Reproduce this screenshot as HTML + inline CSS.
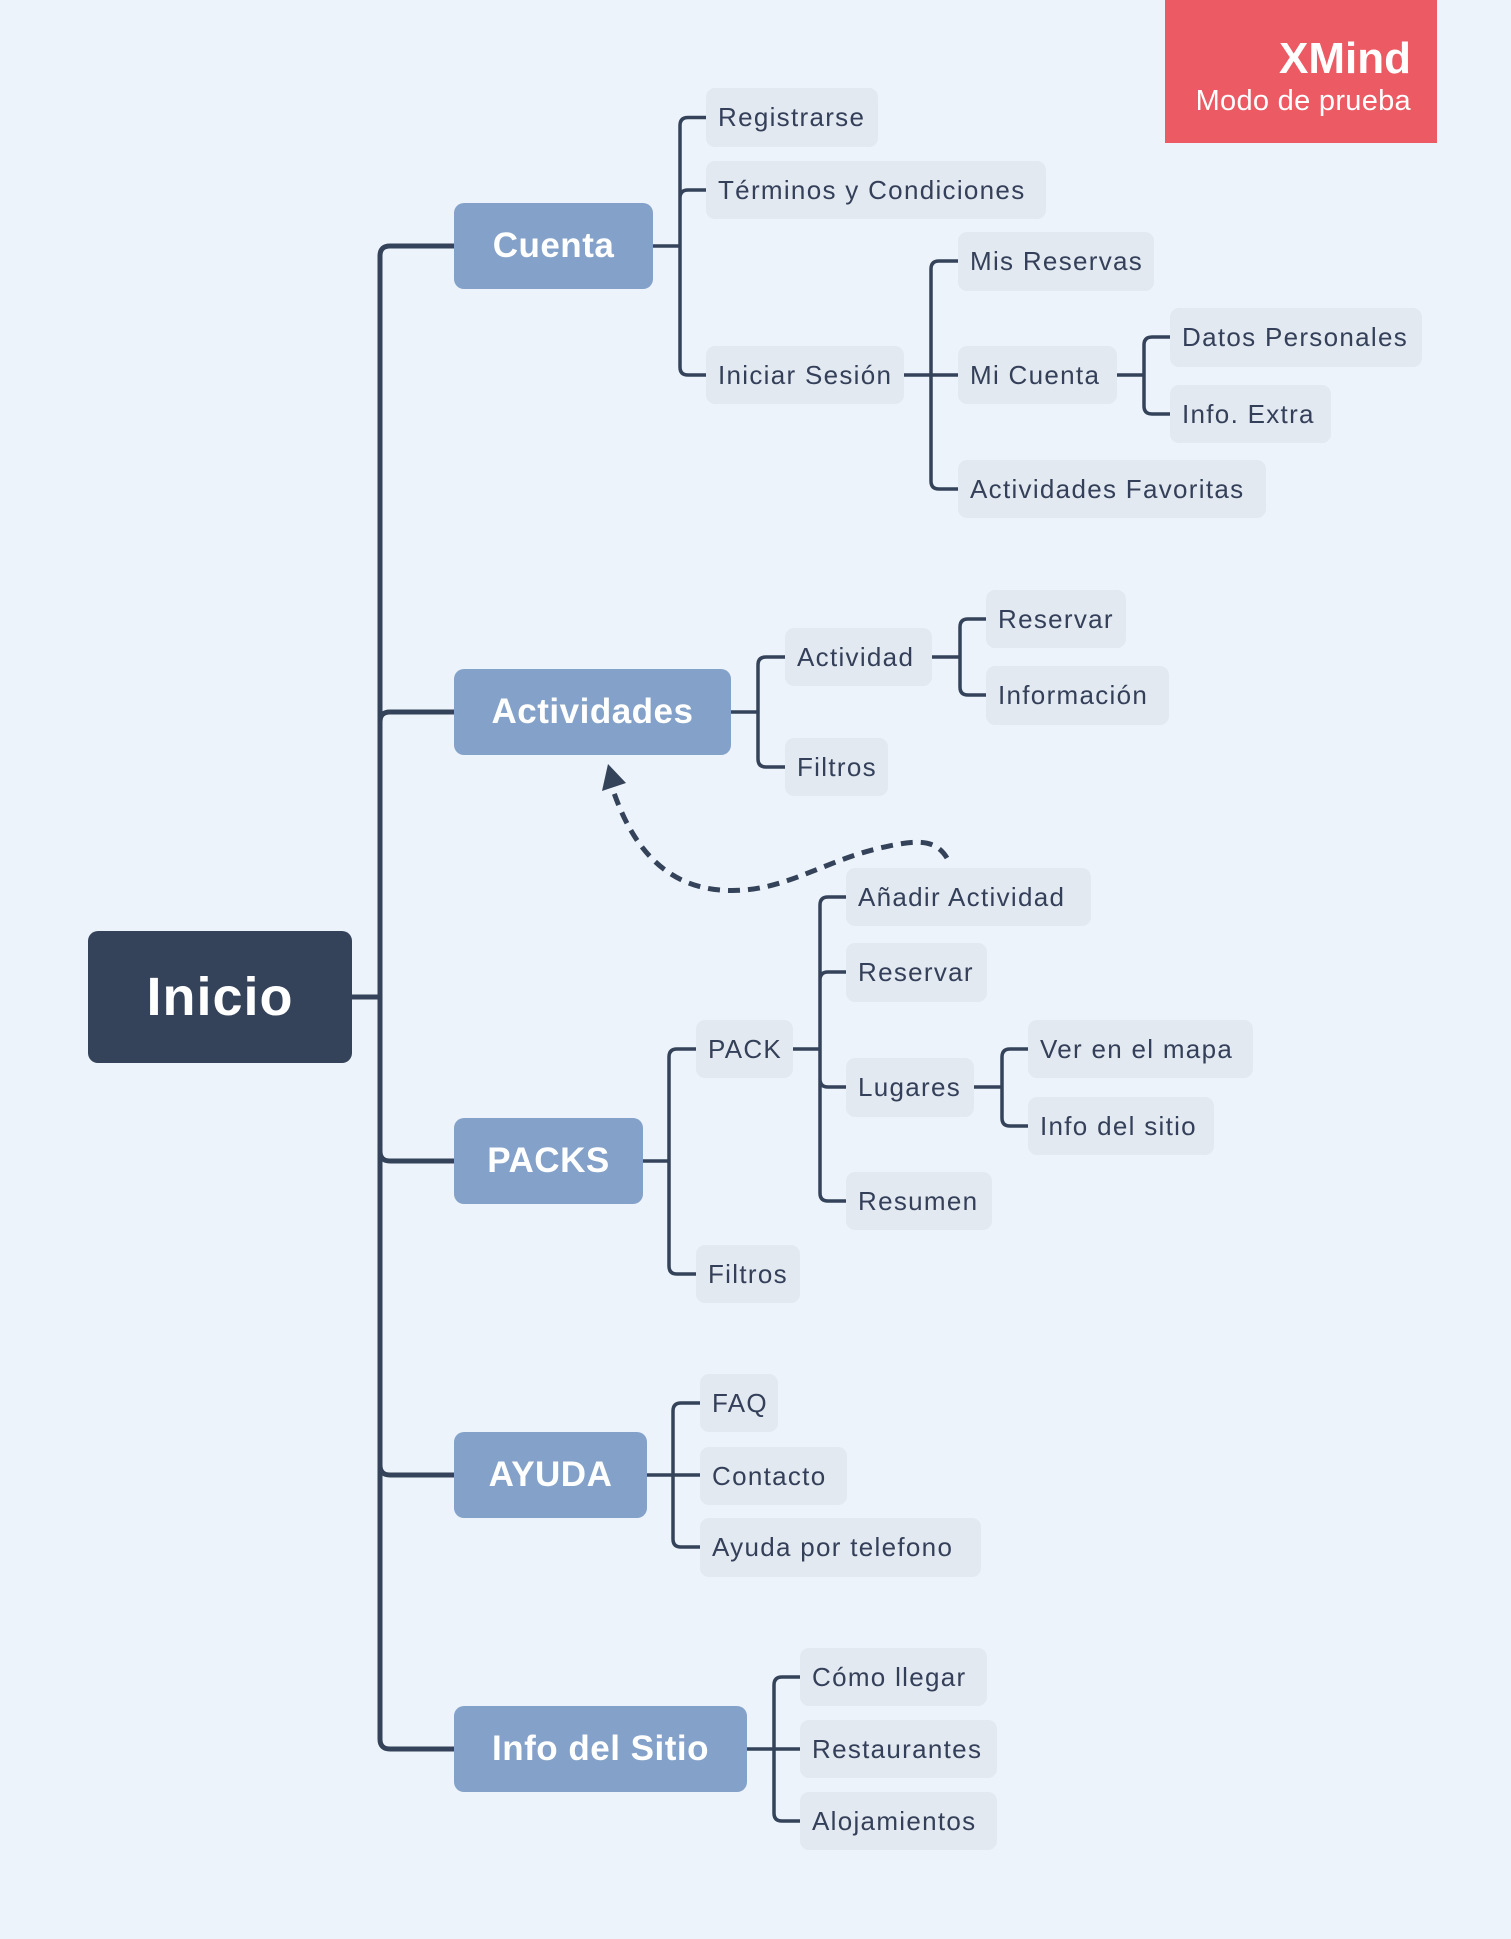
<!DOCTYPE html>
<html><head><meta charset="utf-8"><style>
html,body{margin:0;padding:0}
body{width:1511px;height:1939px;background:#edf3fa;position:relative;overflow:hidden;font-family:"Liberation Sans",sans-serif}
.n{position:absolute;display:flex;align-items:center;box-sizing:border-box;white-space:nowrap}
.l{background:#e3e9f0;color:#34405a;font-size:26px;border-radius:9px;padding-left:12px;letter-spacing:1.3px}
.m{background:#84a2c9;color:#fff;font-size:35px;font-weight:bold;border-radius:10px;justify-content:center;letter-spacing:0.5px}
svg{position:absolute;left:0;top:0}
</style></head><body>
<svg width="1511" height="1939" fill="none" stroke="#344359" stroke-linecap="round">
<g stroke-width="5">
<path d="M352,997 H380 M380,997 V256 Q380,246 390,246 H454 M380,997 V722 Q380,712 390,712 H454 M380,997 V1151 Q380,1161 390,1161 H454 M380,997 V1465 Q380,1475 390,1475 H454 M380,997 V1739 Q380,1749 390,1749 H454"/>
</g>
<g stroke-width="3.5">
<path d="M653,246 H680 M680,246 V125.5 Q680,117.5 688,117.5 H706 M680,246 V198 Q680,190 688,190 H706 M680,246 V367 Q680,375 688,375 H706"/>
<path d="M904,375 H958 M931,375 V269 Q931,261 939,261 H958 M931,375 V481 Q931,489 939,489 H958"/>
<path d="M1117,375 H1144 M1144,375 V345 Q1144,337 1152,337 H1170 M1144,375 V406 Q1144,414 1152,414 H1170"/>
<path d="M731,712 H758 M758,712 V665 Q758,657 766,657 H785 M758,712 V759 Q758,767 766,767 H785"/>
<path d="M932,657 H960 M960,657 V627 Q960,619 968,619 H986 M960,657 V687 Q960,695 968,695 H986"/>
<path d="M643,1161 H669 M669,1161 V1057 Q669,1049 677,1049 H696 M669,1161 V1266 Q669,1274 677,1274 H696"/>
<path d="M793,1049 H820 M820,1049 V905 Q820,897 828,897 H846 M820,1049 V980 Q820,972 828,972 H846 M820,1049 V1079 Q820,1087 828,1087 H846 M820,1049 V1193 Q820,1201 828,1201 H846"/>
<path d="M974,1087 H1002 M1002,1087 V1057 Q1002,1049 1010,1049 H1028 M1002,1087 V1118 Q1002,1126 1010,1126 H1028"/>
<path d="M647,1475 H700 M673,1475 V1411 Q673,1403 681,1403 H700 M673,1475 V1539 Q673,1547 681,1547 H700"/>
<path d="M747,1749 H800 M774,1749 V1685 Q774,1677 782,1677 H800 M774,1749 V1813 Q774,1821 782,1821 H800"/>
</g>
<path d="M947,858 C935,838 915,840 880,848 C820,862 780,895 720,890 C660,885 630,840 613,790" stroke-width="5" stroke-dasharray="12,8" stroke-linecap="butt"/>
<polygon points="608,764 602,791 626,783" fill="#344359" stroke="none"/>
</svg>
<div style="position:absolute;left:1165px;top:0;width:272px;height:143px;background:#ec5a63;color:#fff;text-align:right;box-sizing:border-box;padding-right:26px">
<div style="font-size:44px;font-weight:bold;margin-top:34px;line-height:50px">XMind</div>
<div style="font-size:29px;line-height:34px;letter-spacing:0.3px">Modo de prueba</div></div>
<div class="n" style="left:88px;top:931px;width:264px;height:132px;background:#344359;color:#fff;font-size:54px;font-weight:bold;border-radius:10px;justify-content:center;letter-spacing:1px">Inicio</div>
<div class="n m" style="left:454px;top:203px;width:199px;height:86px">Cuenta</div>
<div class="n m" style="left:454px;top:669px;width:277px;height:86px">Actividades</div>
<div class="n m" style="left:454px;top:1118px;width:189px;height:86px">PACKS</div>
<div class="n m" style="left:454px;top:1432px;width:193px;height:86px">AYUDA</div>
<div class="n m" style="left:454px;top:1706px;width:293px;height:86px">Info del Sitio</div>
<div class="n l" style="left:706px;top:88px;width:172px;height:59px">Registrarse</div>
<div class="n l" style="left:706px;top:161px;width:340px;height:58px">Términos y Condiciones</div>
<div class="n l" style="left:706px;top:346px;width:198px;height:58px">Iniciar Sesión</div>
<div class="n l" style="left:958px;top:232px;width:196px;height:59px">Mis Reservas</div>
<div class="n l" style="left:958px;top:346px;width:159px;height:58px">Mi Cuenta</div>
<div class="n l" style="left:1170px;top:308px;width:252px;height:59px">Datos Personales</div>
<div class="n l" style="left:1170px;top:385px;width:161px;height:58px">Info. Extra</div>
<div class="n l" style="left:958px;top:460px;width:308px;height:58px">Actividades Favoritas</div>
<div class="n l" style="left:785px;top:628px;width:147px;height:58px">Actividad</div>
<div class="n l" style="left:986px;top:590px;width:140px;height:58px">Reservar</div>
<div class="n l" style="left:986px;top:666px;width:183px;height:59px">Información</div>
<div class="n l" style="left:785px;top:738px;width:103px;height:58px">Filtros</div>
<div class="n l" style="left:846px;top:868px;width:245px;height:58px">Añadir Actividad</div>
<div class="n l" style="left:846px;top:943px;width:141px;height:59px">Reservar</div>
<div class="n l" style="left:696px;top:1020px;width:97px;height:58px">PACK</div>
<div class="n l" style="left:846px;top:1058px;width:128px;height:59px">Lugares</div>
<div class="n l" style="left:1028px;top:1020px;width:225px;height:58px">Ver en el mapa</div>
<div class="n l" style="left:1028px;top:1097px;width:186px;height:58px">Info del sitio</div>
<div class="n l" style="left:846px;top:1172px;width:146px;height:58px">Resumen</div>
<div class="n l" style="left:696px;top:1245px;width:104px;height:58px">Filtros</div>
<div class="n l" style="left:700px;top:1374px;width:78px;height:58px">FAQ</div>
<div class="n l" style="left:700px;top:1447px;width:147px;height:58px">Contacto</div>
<div class="n l" style="left:700px;top:1518px;width:281px;height:59px">Ayuda por telefono</div>
<div class="n l" style="left:800px;top:1648px;width:187px;height:58px">Cómo llegar</div>
<div class="n l" style="left:800px;top:1720px;width:197px;height:58px">Restaurantes</div>
<div class="n l" style="left:800px;top:1792px;width:197px;height:58px">Alojamientos</div>
</body></html>
